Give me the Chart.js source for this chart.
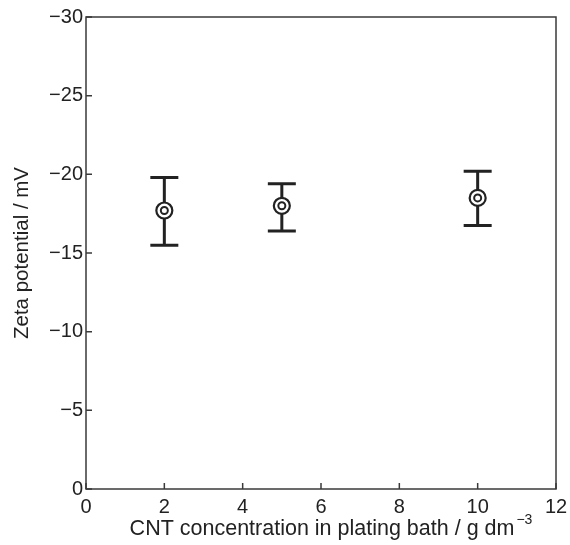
<!DOCTYPE html>
<html>
<head>
<meta charset="utf-8">
<script src="https://cdn.jsdelivr.net/npm/chart.js@4.4.0/dist/chart.umd.min.js"></script>
<style>
  html, body { margin: 0; padding: 0; background: #fff; }
</style>
</head>
<body>
<canvas id="zetaChart" width="570" height="545"></canvas>
<script>
// zeta potential of CNT dispersions vs. concentration in the bath
var concentration = [2, 5, 10];
var zetaMean = [-17.7, -18.0, -18.5];
var zetaUpper = [-19.8, -19.4, -20.2];   // more negative end of the bar
var zetaLower = [-15.5, -16.4, -16.75];
var xTicks = [0, 2, 4, 6, 8, 10, 12];
var yTicks = [0, -5, -10, -15, -20, -25, -30];

var ink = '#222';
var axisInk = '#3a3a3a';
var fontFamily = '"Liberation Sans", Arial, Helvetica, sans-serif';

function minusLabel(v) {
    return v < 0 ? '\u2212' + Math.abs(v) : String(v);
}

var points = concentration.map(function (c, i) {
    return { x: c, y: zetaMean[i] };
});

// error bars underneath, frame + inward ticks + x title (with superscript) on top
var framePlugin = {
    id: 'frame',
    beforeDatasetsDraw: function (chart) {
        var ctx = chart.ctx, xs = chart.scales.x, ys = chart.scales.y;
        var cap = 14;
        ctx.save();
        ctx.strokeStyle = ink;
        ctx.lineWidth = 3;
        concentration.forEach(function (c, i) {
            var px = xs.getPixelForValue(c);
            var top = ys.getPixelForValue(zetaUpper[i]);
            var bot = ys.getPixelForValue(zetaLower[i]);
            ctx.beginPath();
            ctx.moveTo(px, top); ctx.lineTo(px, bot);
            ctx.moveTo(px - cap, top); ctx.lineTo(px + cap, top);
            ctx.moveTo(px - cap, bot); ctx.lineTo(px + cap, bot);
            ctx.stroke();
        });
        ctx.restore();
    },
    afterDraw: function (chart) {
        var ctx = chart.ctx, a = chart.chartArea;
        var xs = chart.scales.x, ys = chart.scales.y;
        var len = 6;
        ctx.save();
        ctx.strokeStyle = axisInk;
        ctx.lineWidth = 1.5;
        ctx.strokeRect(a.left, a.top, a.right - a.left, a.bottom - a.top);
        ctx.beginPath();
        xTicks.forEach(function (t) {
            var px = xs.getPixelForValue(t);
            ctx.moveTo(px, a.bottom); ctx.lineTo(px, a.bottom - len);
        });
        yTicks.forEach(function (t) {
            var py = ys.getPixelForValue(t);
            ctx.moveTo(a.left, py); ctx.lineTo(a.left + len, py);
        });
        ctx.stroke();

        // x axis title: "... / g dm" followed by a raised "−3"
        var main = 'CNT concentration in plating bath / g dm';
        var sup = '\u22123';
        ctx.fillStyle = ink;
        ctx.textBaseline = 'alphabetic';
        ctx.font = '21.5px ' + fontFamily;
        var wMain = ctx.measureText(main).width;
        ctx.font = '14px ' + fontFamily;
        var wSup = ctx.measureText(sup).width;
        var x0 = (a.left + a.right) / 2 + 9 - (wMain + wSup) / 2;
        var base = 535;
        ctx.font = '21.5px ' + fontFamily;
        ctx.textAlign = 'left';
        ctx.fillText(main, x0, base);
        ctx.font = '14px ' + fontFamily;
        ctx.fillText(sup, x0 + wMain + 2, base - 11);
        ctx.restore();
    }
};

new Chart(document.getElementById('zetaChart'), {
    type: 'scatter',
    data: {
        datasets: [{
            // inner ring, drawn last
            data: points,
            pointRadius: 3.5,
            pointHoverRadius: 3.5,
            pointBorderWidth: 2,
            borderColor: ink,
            backgroundColor: '#fff'
        }, {
            // outer ring
            data: points,
            pointRadius: 8,
            pointHoverRadius: 8,
            pointBorderWidth: 2.2,
            borderColor: ink,
            backgroundColor: '#fff'
        }]
    },
    options: {
        responsive: false,
        animation: false,
        layout: { padding: { top: 17, right: 14, left: 0, bottom: 0 } },
        plugins: {
            legend: { display: false },
            tooltip: { enabled: false }
        },
        scales: {
            x: {
                type: 'linear',
                min: 0,
                max: 12,
                afterFit: function (s) {
                    s.height = 56;
                    s.paddingLeft = 0;
                    s.paddingRight = 0;
                },
                afterBuildTicks: function (s) {
                    s.ticks = xTicks.map(function (v) { return { value: v }; });
                },
                grid: { display: false, drawTicks: false },
                border: { display: false },
                ticks: {
                    padding: 6,
                    color: ink,
                    font: { family: fontFamily, size: 20 },
                    maxRotation: 0,
                    callback: minusLabel
                }
            },
            y: {
                type: 'linear',
                min: -30,
                max: 0,
                reverse: true,
                afterFit: function (s) {
                    s.width = 86;
                    s.paddingTop = 0;
                    s.paddingBottom = 0;
                },
                afterBuildTicks: function (s) {
                    s.ticks = yTicks.map(function (v) { return { value: v }; });
                },
                grid: { display: false, drawTicks: false },
                border: { display: false },
                ticks: {
                    padding: 3,
                    color: ink,
                    font: { family: fontFamily, size: 20 },
                    callback: minusLabel
                },
                title: {
                    display: true,
                    text: 'Zeta potential / mV',
                    color: ink,
                    font: { family: fontFamily, size: 20.5 },
                    padding: { top: 10, bottom: 0 }
                }
            }
        }
    },
    plugins: [framePlugin]
});
</script>
</body>
</html>
